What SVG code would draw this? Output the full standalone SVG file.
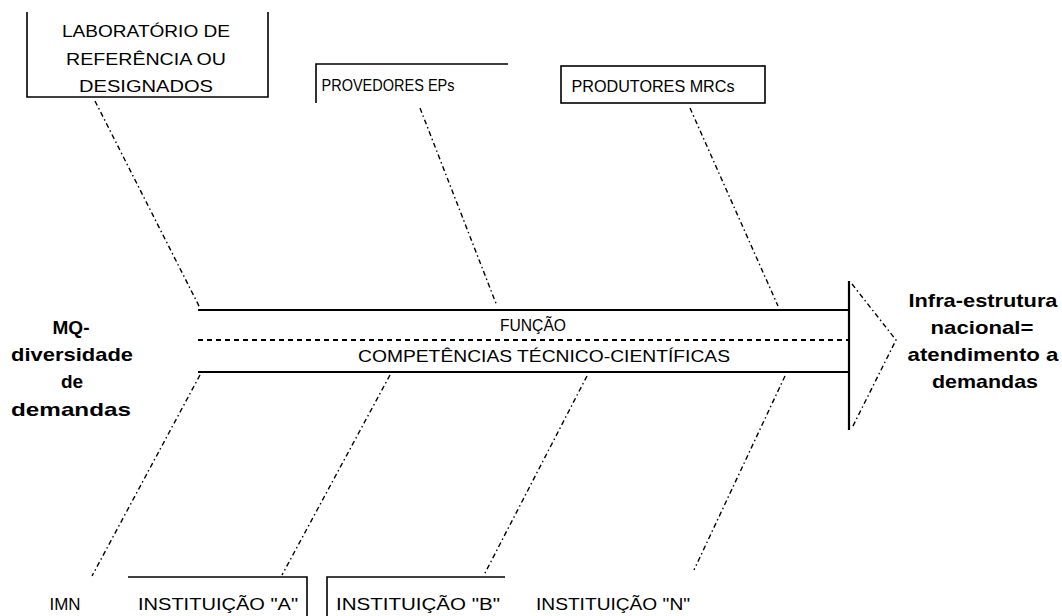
<svg xmlns="http://www.w3.org/2000/svg" width="1062" height="616" viewBox="0 0 1062 616">
<style>
.box{fill:none;stroke:#000;stroke-width:1.6}
.bone{fill:none;stroke:#000;stroke-width:1.4;stroke-dasharray:5 3 1.5 3}
.spine{fill:none;stroke:#000;stroke-width:2.2}
.dash{fill:none;stroke:#000;stroke-width:1.8;stroke-dasharray:5 4}
.lbl{font-family:"Liberation Sans",Arial,sans-serif;font-size:16.5px;fill:#000;text-anchor:middle}
.big{font-family:"Liberation Sans",Arial,sans-serif;font-size:19px;font-weight:bold;fill:#000;text-anchor:middle}
</style>
<rect width="1062" height="616" fill="#fff"/>
<g id="connectors">
<line class="bone" x1="95" y1="101" x2="200" y2="308"/>
<line class="bone" x1="420" y1="108" x2="497" y2="306"/>
<line class="bone" x1="690" y1="108" x2="778" y2="306"/>
<line class="bone" x1="200" y1="375" x2="92" y2="576"/>
<line class="bone" x1="390" y1="375" x2="282" y2="575"/>
<line class="bone" x1="587" y1="376" x2="484" y2="575"/>
<line class="bone" x1="785" y1="376" x2="694" y2="570"/>
</g>
<g id="spine">
<line class="spine" x1="198" y1="310" x2="849" y2="310"/>
<line class="dash" x1="198" y1="340" x2="849" y2="340"/>
<line class="spine" x1="198" y1="372" x2="849" y2="372"/>
<line class="spine" x1="849" y1="281" x2="849" y2="430"/>
<polyline class="bone" points="852,284 896,340 852,428"/>
<text class="lbl" x="533" y="331" textLength="66" lengthAdjust="spacingAndGlyphs">FUNÇÃO</text>
<text class="lbl" x="544" y="362" textLength="372" lengthAdjust="spacingAndGlyphs">COMPETÊNCIAS TÉCNICO-CIENTÍFICAS</text>
</g>
<g id="lab">
<polyline class="box" points="27,12 27,97 268,97 268,12"/>
<text class="lbl" x="146" y="37" textLength="168" lengthAdjust="spacingAndGlyphs">LABORATÓRIO DE</text>
<text class="lbl" x="146" y="65" textLength="160" lengthAdjust="spacingAndGlyphs">REFERÊNCIA OU</text>
<text class="lbl" x="146" y="92" textLength="134" lengthAdjust="spacingAndGlyphs">DESIGNADOS</text>
</g>
<g id="provedores">
<polyline class="box" points="316,103 316,64 508,64"/>
<text class="lbl" x="388" y="91" textLength="133" lengthAdjust="spacingAndGlyphs">PROVEDORES EPs</text>
</g>
<g id="produtores">
<rect class="box" x="561" y="66" width="204" height="37"/>
<text class="lbl" x="653" y="92" textLength="163" lengthAdjust="spacingAndGlyphs">PRODUTORES MRCs</text>
</g>
<g id="mq">
<text class="big" x="71" y="334">MQ-</text>
<text class="big" x="72" y="361" textLength="122" lengthAdjust="spacingAndGlyphs">diversidade</text>
<text class="big" x="72" y="388">de</text>
<text class="big" x="71" y="416" textLength="120" lengthAdjust="spacingAndGlyphs">demandas</text>
</g>
<g id="infra">
<text class="big" x="983" y="307" textLength="149" lengthAdjust="spacingAndGlyphs">Infra-estrutura</text>
<text class="big" x="982" y="334" textLength="103" lengthAdjust="spacingAndGlyphs">nacional=</text>
<text class="big" x="983" y="361" textLength="151" lengthAdjust="spacingAndGlyphs">atendimento a</text>
<text class="big" x="985" y="388" textLength="106" lengthAdjust="spacingAndGlyphs">demandas</text>
</g>
<g id="imn">
<text class="lbl" x="65" y="610" textLength="31" lengthAdjust="spacingAndGlyphs">IMN</text>
</g>
<g id="instA">
<polyline class="box" points="128,577 307,577 307,616"/>
<text class="lbl" x="218" y="610" textLength="160" lengthAdjust="spacingAndGlyphs">INSTITUIÇÃO "A"</text>
</g>
<g id="instB">
<polyline class="box" points="327,616 327,577 505,577"/>
<text class="lbl" x="418" y="610" textLength="164" lengthAdjust="spacingAndGlyphs">INSTITUIÇÃO "B"</text>
</g>
<g id="instN">
<text class="lbl" x="613" y="610" textLength="154" lengthAdjust="spacingAndGlyphs">INSTITUIÇÃO "N"</text>
</g>
</svg>
